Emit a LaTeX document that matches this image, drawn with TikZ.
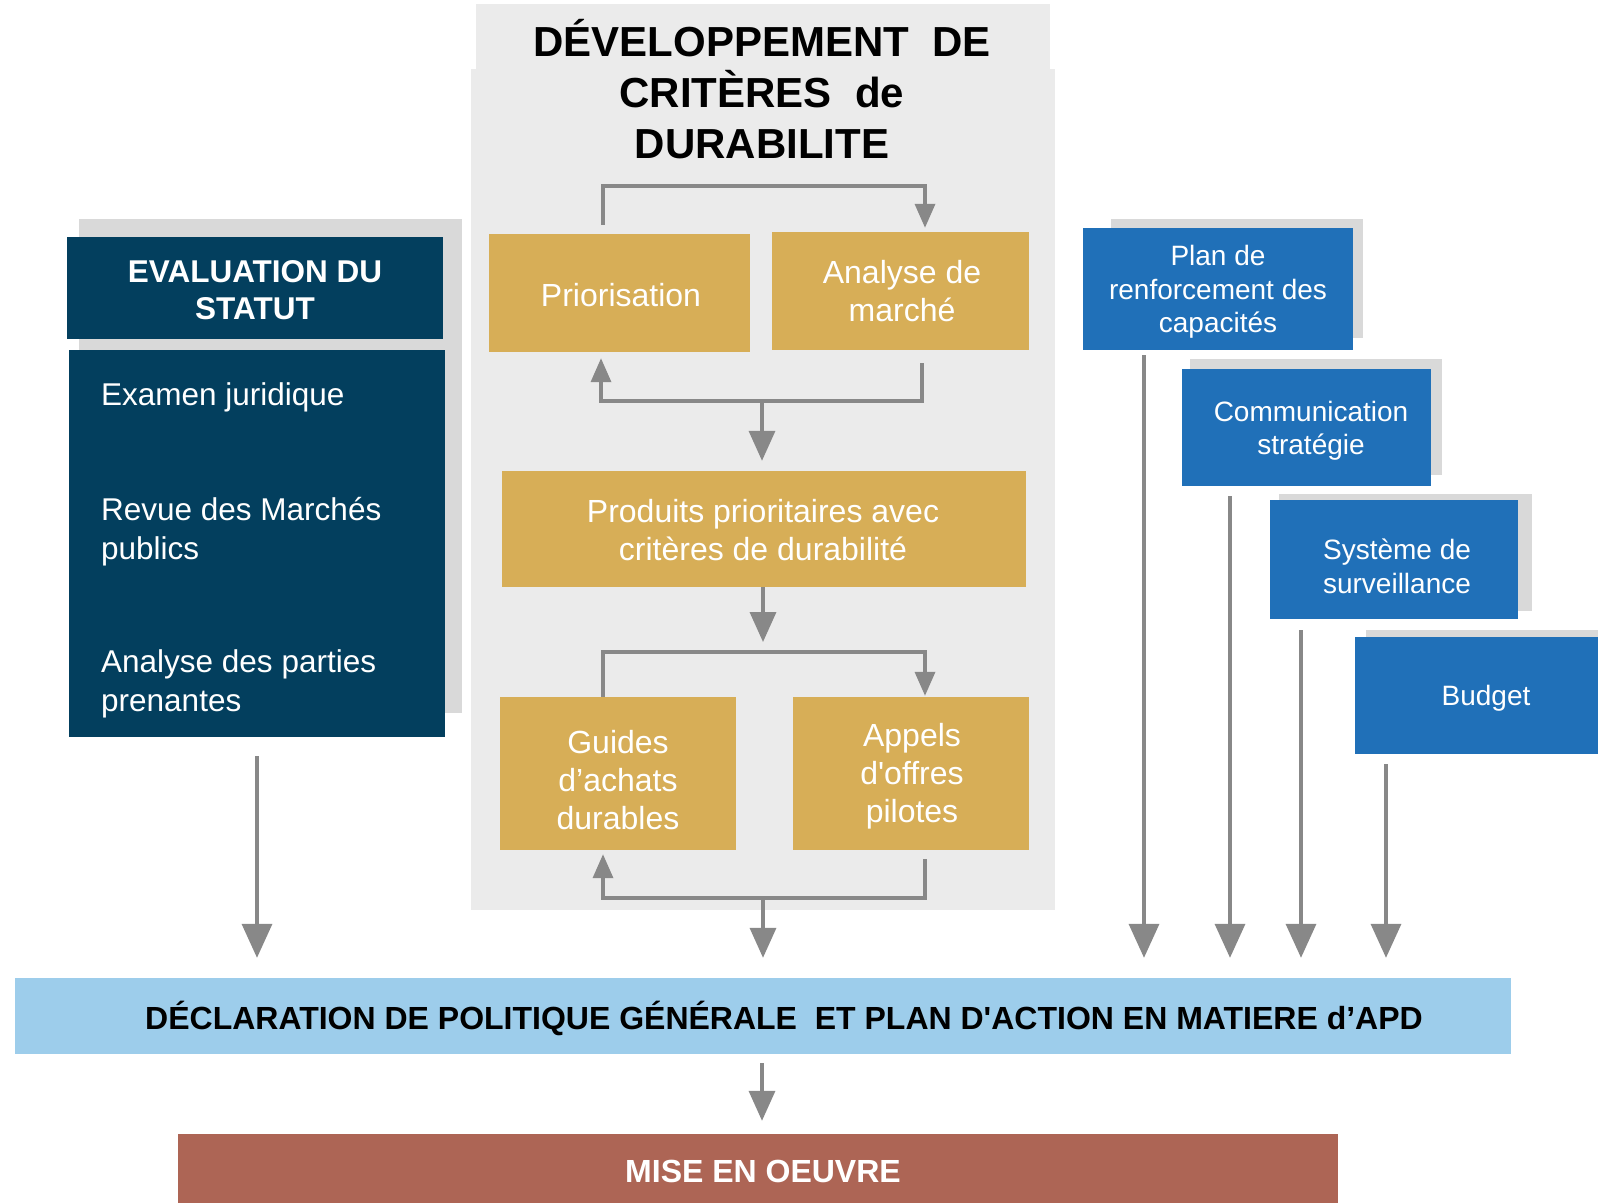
\documentclass[tikz,border=0pt]{standalone}
\usepackage{fontspec}
\setmainfont{Liberation Sans}[Ligatures=TeXOff]
\usetikzlibrary{arrows.meta}
\definecolor{navy}{HTML}{033F5E}
\definecolor{ochre}{HTML}{D7AE57}
\definecolor{bluebox}{HTML}{2070B8}
\definecolor{lightblue}{HTML}{9DCDEB}
\definecolor{brick}{HTML}{AD6555}
\definecolor{panelgray}{HTML}{EBEBEB}
\definecolor{shadowgray}{HTML}{D9D9D9}
\definecolor{arrowgray}{HTML}{888888}
\begin{document}
\begin{tikzpicture}[x=1pt,y=-1pt,
  boxshape/.style={inner sep=0pt},
  ybox/.style={boxshape, fill=ochre},
  bbox/.style={boxshape, fill=bluebox},
  ytext/.style={inner sep=0pt, align=center, text=white, font=\fontsize{32}{38}\selectfont},
  btext/.style={inner sep=0pt, align=center, text=white, font=\fontsize{28}{33.5}\selectfont},
  bartext/.style={inner sep=0pt, align=center, font=\bfseries\fontsize{32}{38}\selectfont},
  item/.style={inner sep=0pt, align=left, text=white, anchor=west, font=\fontsize{31.5}{39}\selectfont},
  conn/.style={draw=arrowgray, line width=3.5pt},
  tipS/.style={-{Triangle[width=20pt,length=24pt]}},
  tipM/.style={-{Triangle[width=26pt,length=30pt]}},
  tipL/.style={-{Triangle[width=30pt,length=34pt]}}
]
\useasboundingbox[fill=white] (0,0) rectangle (1598,1203);

% central grey panel
\fill[panelgray] (476,4) rectangle (1050,69);
\fill[panelgray] (471,69) rectangle (1055,910);
\node[font=\bfseries\fontsize{42}{51}\selectfont, align=center, inner sep=0pt] (title) at (762,89)
  {DÉVELOPPEMENT\ \ DE\\CRITÈRES\ \ de\\DURABILITE};

% left panel
\fill[shadowgray] (79,219) rectangle (462,713);
\node[boxshape, fill=navy, minimum width=376pt, minimum height=102pt] (eval) at (255,288) {};
\node[inner sep=0pt, align=center, text=white, font=\bfseries\fontsize{31.5}{37}\selectfont] (evalT) at (255,290) {EVALUATION DU\\STATUT};
\node[boxshape, fill=navy, minimum width=376pt, minimum height=387pt] (evalbody) at (257,543.5) {};
\node[item] (exam) at (101,397) {Examen juridique};
\node[item] (revue) at (101,532) {Revue des Marchés\\publics};
\node[item] (parties) at (101,684) {Analyse des parties\\prenantes};

% yellow boxes
\node[ybox, minimum width=261pt, minimum height=118pt] (prio) at (619.5,293) {};
\node[ytext] (prioT) at (621,295) {Priorisation};
\node[ybox, minimum width=257pt, minimum height=118pt] (ana) at (900.5,291) {};
\node[ytext] (anaT) at (902,291) {Analyse de\\marché};
\node[ybox, minimum width=524pt, minimum height=116pt] (prod) at (764,529) {};
\node[ytext] (prodT) at (763,530) {Produits prioritaires avec\\critères de durabilité};
\node[ybox, minimum width=236pt, minimum height=153pt] (guide) at (618,773.5) {};
\node[ytext] (guideT) at (618,780.5) {Guides\\d’achats\\durables};
\node[ybox, minimum width=236pt, minimum height=153pt] (appel) at (911,773.5) {};
\node[ytext] (appelT) at (912,776.5) {Appels\\d'offres\\pilotes};

% blue boxes with shadows
\fill[shadowgray] (1111,219) rectangle (1363,338);
\fill[shadowgray] (1190,359) rectangle (1442,475);
\fill[shadowgray] (1279,494) rectangle (1532,611);
\fill[shadowgray] (1366,630) rectangle (1598,640);
\node[bbox, minimum width=270pt, minimum height=122pt] (plan) at (1218,289) {};
\node[btext] (planT) at (1218,292) {Plan de\\renforcement des\\capacités};
\node[bbox, minimum width=249pt, minimum height=117pt] (comm) at (1306.5,427.5) {};
\node[btext] (commT) at (1311,431) {Communication\\stratégie};
\node[bbox, minimum width=248pt, minimum height=119pt] (sys) at (1394,559.5) {};
\node[btext] (sysT) at (1397,566.5) {Système de\\surveillance};
\node[bbox, minimum width=243pt, minimum height=117pt] (budget) at (1476.5,695.5) {};
\node[btext] (budgetT) at (1486,698.5) {Budget};

% bottom bars
\node[boxshape, fill=lightblue, minimum width=1496pt, minimum height=76pt] (decl) at (763,1016) {};
\node[bartext, text=black] (declT) at (784,1018)
  {DÉCLARATION DE POLITIQUE GÉNÉRALE\ \ ET PLAN D'ACTION EN MATIERE d’APD};
\node[boxshape, fill=brick, minimum width=1160pt, minimum height=69pt] (mise) at (758,1168.5) {};
\node[bartext, text=white] (miseT) at (763,1171.5) {MISE EN OEUVRE};

% helper coordinates
\coordinate (dtop) at ([shift={(0,-20)}]decl.north);
\coordinate (j1) at (762,401);
\coordinate (j2) at (763,652);
\coordinate (j3) at (763,898);

% loops in the central panel
\draw[conn,tipS] ([shift={(-16.5,-9)}]prio.north) -- ++(0,-39) -| ([shift={(24.5,-4)}]ana.north);
\draw[conn,tipS] ([shift={(21.5,13)}]ana.south) -- ++(0,38) -| ([shift={(-18.5,6)}]prio.south);
\draw[conn,tipM] (j1) -- ([shift={(-2,-10)}]prod.north);
\draw[conn,tipM] ([shift={(-1,0)}]prod.south) -- ([shift={(0,-10)}]j2);
\draw[conn,tipS] ([shift={(-15,0)}]guide.north) -- ++(0,-45) -| ([shift={(14,-1)}]appel.north);
\draw[conn,tipS] ([shift={(14,9)}]appel.south) -- ++(0,39) -| ([shift={(-15,4)}]guide.south);
\draw[conn,tipM] (j3) -- (j3 |- dtop);

% left arrow
\coordinate (l0) at ([shift={(0,19)}]evalbody.south);
\draw[conn,tipL] (l0) -- (l0 |- dtop);

% right arrows
\coordinate (r1) at ([shift={(-74,5)}]plan.south);
\coordinate (r2) at ([shift={(-76.5,10)}]comm.south);
\coordinate (r3) at ([shift={(-93,11)}]sys.south);
\coordinate (r4) at ([shift={(-90.5,10)}]budget.south);
\draw[conn,tipL] (r1) -- (r1 |- dtop);
\draw[conn,tipL] (r2) -- (r2 |- dtop);
\draw[conn,tipL] (r3) -- (r3 |- dtop);
\draw[conn,tipL] (r4) -- (r4 |- dtop);

% bottom arrow
\coordinate (m0) at ([shift={(-1,9)}]decl.south);
\coordinate (mtop) at ([shift={(0,-13)}]mise.north);
\draw[conn,tipM] (m0) -- (m0 |- mtop);
\end{tikzpicture}
\end{document}
